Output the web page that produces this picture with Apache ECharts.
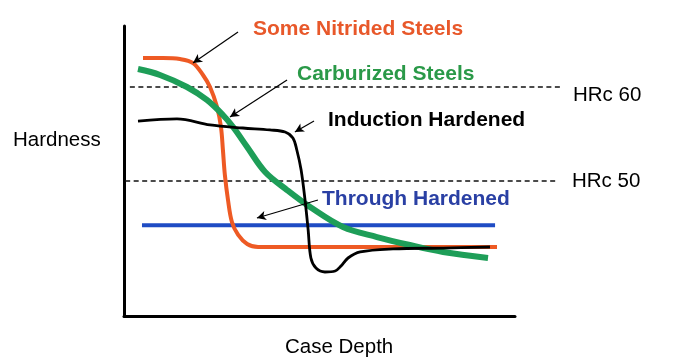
<!DOCTYPE html>
<html>
<head>
<meta charset="utf-8">
<script src="https://cdn.jsdelivr.net/npm/echarts@6/dist/echarts.min.js"></script>
<style>html,body{margin:0;padding:0;background:#fff;}#c{width:679px;height:359px;}</style>
</head>
<body>
<div id="c"></div>
<script>
// Case depth (arbitrary units 0..100) vs hardness (HRc)
var nitrided = [[4.86,63.09],[9.97,63.09],[14.3,62.98],[17.65,62.55],[20.2,61.28],[22.0,60.0],[23.8,57.87],[24.8,55.74],[25.3,53.3],[25.8,50.64],[26.6,47.98],[27.6,45.64],[29.2,44.26],[31.5,43.3],[34.3,42.98],[95.4,42.98]];
var carburized = [[3.58,61.91],[9.2,61.28],[16.1,60.0],[21.2,58.62],[25.3,57.02],[27.9,55.74],[31.5,53.62],[36.1,50.96],[41.7,49.04],[47.6,47.23],[56.0,45.11],[64.7,44.04],[73.1,43.19],[81.6,42.45],[93.1,41.81]];
var induction = [[3.58,56.38],[13.55,56.6],[22.0,55.96],[30.4,55.64],[37.3,55.43],[41.2,55.21],[43.2,54.57],[44.2,53.3],[45.3,51.17],[46.3,47.98],[47.1,44.79],[47.8,41.81],[49.1,40.74],[51.4,40.32],[54.0,40.43],[55.5,40.96],[57.3,41.81],[60.4,42.45],[68.8,42.77],[81.6,42.87],[93.6,42.98]];
var through = [[4.6,45.3],[94.9,45.3]];
var hrc60 = [[1.5,60],[112.3,60]];
var hrc50 = [[0.3,50],[111.0,50]];
var refLabels = ['HRc 60','HRc 50'];
var arrows = [
  [[29.16,65.85],[17.65,62.55]],
  [[41.7,60.74],[27.1,56.81]],
  [[48.6,56.38],[43.7,55.21]],
  [[49.6,47.98],[34.0,46.06]]
];
var seriesNames = ['Some Nitrided Steels','Carburized Steels','Induction Hardened','Through Hardened'];
var axisNames = ['Hardness','Case Depth'];

var FONT = '"Liberation Sans", Arial, sans-serif';
var chart = echarts.init(document.getElementById('c'), null, {renderer:'canvas'});

function txt(x, y, s, color, size, weight) {
  return {type:'text', left:x, top:y - size*0.46, style:{text:s, fill:color, font:(weight||'normal') + ' ' + size + 'px ' + FONT}};
}

var X_MAX = 100, Y_MIN = 35.64, Y_MAX = 66.49;
var PX_PER_X = 3.91; // keeps both grids at the same x scale
var X_MAX_WIDE = 112.3;

chart.setOption({
  animation:false,
  backgroundColor:'#fff',
  grid:[
    {left:124, top:26, width:391, height:290},
    {left:124, top:26, width:Math.round(X_MAX_WIDE*PX_PER_X), height:290}
  ],
  xAxis:[
    {gridIndex:0, type:'value', min:0, max:X_MAX, splitLine:{show:false}, axisTick:{show:false}, axisLabel:{show:false},
      axisLine:{show:true, lineStyle:{color:'#000', width:3}}},
    {gridIndex:1, type:'value', min:0, max:X_MAX_WIDE, show:false}
  ],
  yAxis:[
    {gridIndex:0, type:'value', min:Y_MIN, max:Y_MAX, splitLine:{show:false}, axisTick:{show:false}, axisLabel:{show:false},
      axisLine:{show:true, lineStyle:{color:'#000', width:3}}},
    {gridIndex:1, type:'value', min:Y_MIN, max:Y_MAX, show:false}
  ],
  series:[
    {type:'line', xAxisIndex:1, yAxisIndex:1, data:hrc60, symbol:'none', silent:true, lineStyle:{color:'#111', width:1.4, type:[5,3.5]}},
    {type:'line', xAxisIndex:1, yAxisIndex:1, data:hrc50, symbol:'none', silent:true, lineStyle:{color:'#111', width:1.4, type:[5,3.5]}},
    {name:seriesNames[3], type:'line', data:through, symbol:'none', lineStyle:{color:'#1f4cc4', width:4}},
    {name:seriesNames[0], type:'line', data:nitrided, symbol:'none', smooth:0.35, lineStyle:{color:'#ee5a24', width:4}},
    {name:seriesNames[1], type:'line', data:carburized, symbol:'none', smooth:0.35, lineStyle:{color:'#1e9e58', width:6}},
    {name:seriesNames[2], type:'line', data:induction, symbol:'none', smooth:0.35, lineStyle:{color:'#000', width:2.8}},
    {type:'line', data:[], silent:true,
      markLine:{silent:true, symbol:['none','arrow'], symbolSize:[7,9], label:{show:false},
        lineStyle:{color:'#000', width:1.2, type:'solid'},
        data:arrows.map(function(a){return [{coord:a[0]},{coord:a[1]}];})}}
  ],
  graphic:[
    txt(253, 28.5, seriesNames[0], '#e8582a', 21, 'bold'),
    txt(297, 73.5, seriesNames[1], '#2a9948', 21, 'bold'),
    txt(328, 119.5, seriesNames[2], '#000', 21, 'bold'),
    txt(322, 198.5, seriesNames[3], '#2a40a4', 21, 'bold'),
    txt(573, 94, refLabels[0], '#000', 20.5),
    txt(572, 180.5, refLabels[1], '#000', 20.5),
    txt(13, 139, axisNames[0], '#000', 20.5),
    txt(285, 346.5, axisNames[1], '#000', 20.5)
  ]
});
</script>
</body>
</html>
